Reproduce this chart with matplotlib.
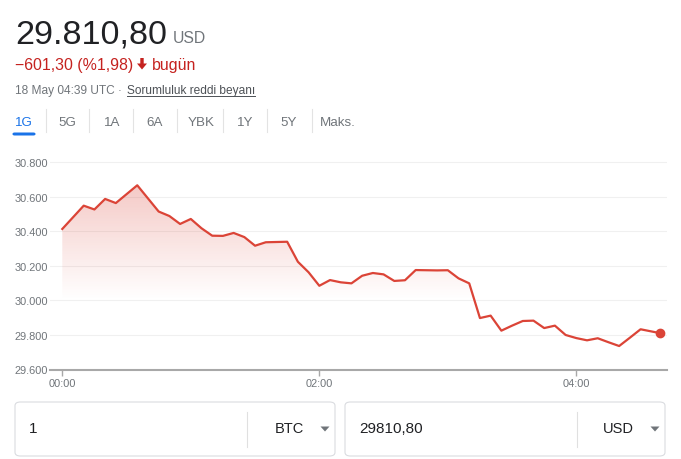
import numpy as np
import matplotlib
matplotlib.use("Agg")
import matplotlib.pyplot as plt
from matplotlib.patches import FancyBboxPatch, Polygon
from matplotlib.lines import Line2D
from matplotlib.ticker import FuncFormatter

plt.rcParams['font.family'] = ['Liberation Sans', 'DejaVu Sans']

# ---- data (minutes after 00:00 UTC, price in USD) ----
minutes = [0, 10, 15, 20, 25, 35, 45, 50, 55, 60, 65, 70, 75, 80, 85, 90, 95, 105,
           110, 115, 120, 125, 130, 135, 140, 145, 150, 155, 160, 165, 175, 180, 185,
           190, 195, 200, 205, 210, 215, 220, 225, 230, 235, 240, 245, 250, 255, 260,
           265, 270, 279]
prices = [30414, 30549, 30527, 30588, 30564, 30667, 30515, 30489, 30443, 30472, 30418,
          30375, 30374, 30391, 30367, 30317, 30337, 30340, 30224, 30163, 30085, 30118,
          30105, 30099, 30143, 30159, 30151, 30113, 30117, 30176, 30174, 30175, 30128,
          30099, 29898, 29912, 29825, 29854, 29881, 29883, 29840, 29854, 29800, 29782,
          29769, 29781, 29758, 29736, 29784, 29833, 29810.8]
y_ticks = [29600, 29800, 30000, 30200, 30400, 30600, 30800]
x_ticks = [0, 120, 240]
x_tick_labels = ["00:00", "02:00", "04:00"]
tabs = ["1G", "5G", "1A", "6A", "YBK", "1Y", "5Y", "Maks."]

W, H = 681, 460
fig = plt.figure(figsize=(W / 100, H / 100), dpi=100)
fig.patch.set_facecolor('white')

def P(x, y):
    return (x / W, 1 - y / H)

RED = '#db4437'
GRAY = '#70757a'
DARK = '#202124'

# ---- main chart ----
ax = fig.add_axes([50 / W, (H - 370.5) / H, (666.7 - 50) / W, 215.8 / H])
x0, x1 = -5.74, 282.2
y0, y1 = 29600, 30850
ax.set_xlim(x0, x1)
ax.set_ylim(y0, y1)

# gradient fill
poly = ax.fill_between(minutes, prices, y0, facecolor='none', edgecolor='none')
N = 300
ys = np.linspace(y0, y1, N)
alpha = np.clip((ys - 30000) / 700.0, 0, 1) * 0.3
img = np.zeros((N, 2, 4))
img[:, :, 0] = 0.86
img[:, :, 1] = 0.27
img[:, :, 2] = 0.22
img[:, :, 3] = alpha[:, None]
im = ax.imshow(img, extent=[x0, x1, y0, y1], origin='lower', aspect='auto',
               interpolation='bilinear', zorder=1)
clip_path = poly.get_paths()[0]
im.set_clip_path(clip_path, transform=ax.transData)

ax.plot(minutes, prices, color=RED, lw=1.6, zorder=3, solid_joinstyle='round')
ax.plot([minutes[-1]], [prices[-1]], 'o', color=RED, ms=6, zorder=4)

for t in y_ticks[1:]:
    ax.axhline(t, color='#f0f0f0', lw=0.8, zorder=0)

for s in ['top', 'right', 'left']:
    ax.spines[s].set_visible(False)
ax.spines['bottom'].set_color('#a8a8a8')
ax.spines['bottom'].set_linewidth(1.5)

ax.set_yticks(y_ticks)
ax.yaxis.set_major_formatter(FuncFormatter(lambda v, p: f"{int(v):,}".replace(",", ".")))
ax.tick_params(axis='y', length=0, pad=1.5, labelsize=7.9, labelcolor=GRAY)
ax.set_xticks(x_ticks)
ax.set_xticklabels(x_tick_labels)
ax.tick_params(axis='x', length=4, width=1, color='#a8a8a8', pad=2,
               labelsize=7.9, labelcolor=GRAY)

# ---- header ----
fig.text(*P(15, 43.5), "29.810,80", fontsize=24.6, color=DARK, va='baseline', ha='left')
fig.text(*P(173, 43), "USD", fontsize=11.3, color=GRAY, va='baseline', ha='left')
CRED = '#c5221f'
fig.text(*P(15, 70.5), "\u2212601,30 (%1,98)", fontsize=11.4, color=CRED,
         va='baseline', ha='left')
# heavy down arrow
arrow_pts = [(140.3, 59), (143.7, 59), (143.7, 64.5), (147, 64.5), (142, 70.5),
             (137, 64.5), (140.3, 64.5)]
fig.patches.append(Polygon([P(x, y) for x, y in arrow_pts], closed=True,
                           transform=fig.transFigure, facecolor=CRED, edgecolor='none'))
fig.text(*P(151.5, 70.5), "bugün", fontsize=11.4, color=CRED, va='baseline', ha='left')

fig.text(*P(15, 94.3), "18 May 04:39 UTC \u00b7", fontsize=8.6, color=GRAY,
         va='baseline', ha='left')
lt = fig.text(*P(127, 94.3), "Sorumluluk reddi beyanı", fontsize=8.6, color='#4d5156',
              va='baseline', ha='left')
r = fig.canvas.get_renderer()
bb = lt.get_window_extent(renderer=r)
fig.lines.append(Line2D([127 / W, 127 / W + bb.width / W], [1 - 97.3 / H] * 2,
                        transform=fig.transFigure, color='#4d5156', lw=0.7))

# ---- tabs ----
tab_x = [24, 67.7, 111.7, 155, 200.7, 245.7, 288.7, 337.7]
sep_x = [45.7, 89.3, 133.3, 176.7, 223.3, 267.3, 311.7]
for i, (lab, x) in enumerate(zip(tabs, tab_x)):
    fig.text(*P(x, 123), lab, fontsize=9.6, color='#1a73e8' if i == 0 else GRAY,
             ha='center', va='center')
for x in sep_x:
    fig.lines.append(Line2D([x / W] * 2, [1 - 110 / H, 1 - 133 / H],
                            transform=fig.transFigure, color='#e3e3e3', lw=0.8))
fig.patches.append(FancyBboxPatch(P(12.5, 136.5), 23 / W, 3 / H,
                                  boxstyle='round,pad=0,rounding_size=0.003',
                                  transform=fig.transFigure, facecolor='#1a73e8',
                                  edgecolor='none'))

# ---- converter boxes ----
def box(xl, xr, sep, left_text, right_text, right_end):
    fig.patches.append(FancyBboxPatch(P(xl, 457), (xr - xl) / W, 54 / H,
                                      boxstyle='round,pad=0,rounding_size=0.008',
                                      transform=fig.transFigure, facecolor='white',
                                      edgecolor='#dadce0', lw=0.8))
    fig.lines.append(Line2D([sep / W] * 2, [1 - 413 / H, 1 - 448 / H],
                            transform=fig.transFigure, color='#e0e0e0', lw=0.8))
    fig.text(*P(xl + 14, 429.5), left_text, fontsize=11, color=DARK,
             ha='left', va='center')
    fig.text(*P(right_end, 429.5), right_text, fontsize=10.5, color=DARK,
             ha='right', va='center')
    ax_ = right_end + 21
    tri = [(ax_ - 4.5, 427.5), (ax_ + 4.5, 427.5), (ax_, 432.5)]
    fig.patches.append(Polygon([P(x, y) for x, y in tri], closed=True,
                               transform=fig.transFigure, facecolor=GRAY,
                               edgecolor='none'))

box(15, 335, 247, "1", "BTC", 304)
box(345, 665, 577, "29810,80", "USD", 634)

fig.savefig("out.png", dpi=100, facecolor='white')
